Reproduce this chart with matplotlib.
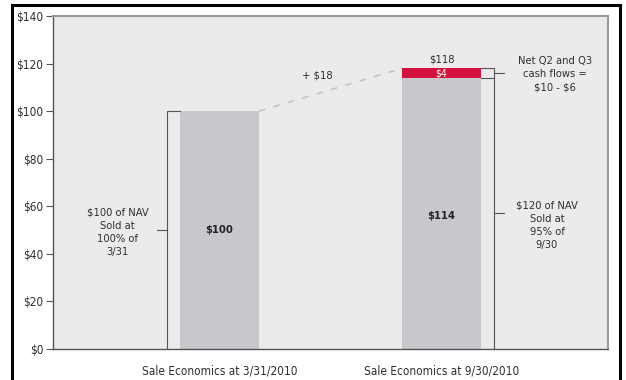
import matplotlib.pyplot as plt
from matplotlib.patches import Rectangle

plt.rcParams['font.family'] = ['Liberation Sans Narrow', 'DejaVu Sans']
plt.rcParams['font.stretch'] = 'condensed'

# Sale economics data
categories = ["Sale Economics at 3/31/2010", "Sale Economics at 9/30/2010"]
base_values = [100, 114]
cash_flow_add = [0, 4]
nav_sold = [100, 120]
sale_pct = [100, 95]
gain = 18
y_ticks = [0, 20, 40, 60, 80, 100, 120, 140]

BAR_GREY = "#c8c8cc"
RED = "#d4103c"
PANEL = "#ebebeb"
INK = "#2e2e2e"
FS = 8

fig = plt.figure(figsize=(6.26, 3.8), dpi=100)
ax = fig.add_axes([53 / 626, 31 / 380, 555 / 626, 333 / 380])
ax.set_facecolor(PANEL)

x = [0, 1]
width = 0.356
ax.bar(x, base_values, width=width, color=BAR_GREY, zorder=2)
ax.bar(x, cash_flow_add, width=width, bottom=base_values, color=RED, zorder=2)

top2 = base_values[1] + cash_flow_add[1]

# dashed connector between the two bar tops
ax.plot([x[0] + width / 2, x[1] - width / 2], [base_values[0], top2],
        ls=(0, (4, 5)), color="#c4c4c4", lw=1.2, zorder=1)
ax.text(0.44, 115, f"+ ${gain}", ha="center", va="center", fontsize=FS, color=INK)

# value labels
ax.text(x[0], base_values[0] / 2, f"${base_values[0]}", ha="center", va="center",
        fontsize=FS, color="#222222", fontweight="bold")
ax.text(x[1], 56, f"${base_values[1]}", ha="center", va="center",
        fontsize=FS, color="#222222", fontweight="bold")
ax.text(x[1], base_values[1] + cash_flow_add[1] / 2, f"${cash_flow_add[1]}",
        ha="center", va="center", fontsize=7.5, color="white")
ax.text(x[1], top2 + 1.7, f"${top2}", ha="center", va="bottom", fontsize=FS, color=INK)

# bracket on the first bar
bx1 = -0.236
ax.plot([x[0] - width / 2, bx1, bx1], [base_values[0], base_values[0], 0],
        color="#555555", lw=0.8, zorder=3)
ax.plot([bx1, -0.282], [base_values[0] / 2] * 2, color="#555555", lw=0.8)
ax.text(-0.46, 49, f"${nav_sold[0]} of NAV\nSold at\n{sale_pct[0]}% of\n3/31",
        ha="center", va="center", fontsize=FS, color=INK, linespacing=1.4)

# brackets on the second bar
bx2 = 1.236
ax.plot([x[1] + width / 2, bx2, bx2, x[1] + width / 2],
        [top2, top2, base_values[1], base_values[1]], color="#555555", lw=0.8, zorder=3)
ax.plot([bx2, bx2], [base_values[1], 0], color="#555555", lw=0.8, zorder=3)
ax.plot([bx2, 1.282], [base_values[1] + cash_flow_add[1] / 2] * 2, color="#555555", lw=0.8)
ax.plot([bx2, 1.282], [57, 57], color="#555555", lw=0.8)
ax.text(1.51, 115.5, "Net Q2 and Q3\ncash flows =\n\\$10 - \\$6",
        ha="center", va="center", fontsize=FS, color=INK, linespacing=1.35)
ax.text(1.475, 52, f"${nav_sold[1]} of NAV\nSold at\n{sale_pct[1]}% of\n9/30",
        ha="center", va="center", fontsize=FS, color=INK, linespacing=1.4)

ax.set_xlim(-0.75, 1.75)
ax.set_ylim(0, 140)
ax.set_yticks(y_ticks)
ax.set_yticklabels([f"${v}" for v in y_ticks], fontsize=8.5, color=INK)
ax.set_xticks(x)
ax.set_xticklabels(categories, fontsize=8.5, color=INK)
ax.tick_params(axis="x", length=0, pad=11)
ax.tick_params(axis="y", length=5, width=0.8, color="#555555", pad=2)

for side in ("top", "right"):
    ax.spines[side].set_color("#9a9a9a")
    ax.spines[side].set_linewidth(1.5)
for side in ("left", "bottom"):
    ax.spines[side].set_color("#555555")
    ax.spines[side].set_linewidth(1.0)

# outer frame around the figure
fig.patches.append(Rectangle((12 / 626, -0.05), 608 / 626, (375 / 380) + 0.05,
                             transform=fig.transFigure, fill=False,
                             edgecolor="black", lw=2.2))

fig.savefig("out.png", dpi=100)
